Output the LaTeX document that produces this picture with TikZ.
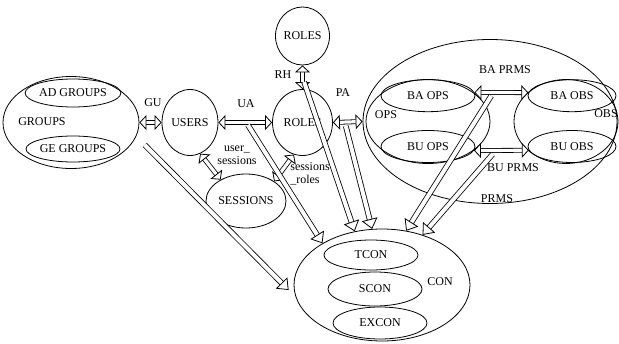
\documentclass[tikz,border=0pt]{standalone}
\usepackage{fontspec}
\setmainfont{Liberation Serif}
\usetikzlibrary{positioning, shapes.geometric, arrows.meta}

\begin{document}
\begin{tikzpicture}[x=1pt, y=-1pt, thick, font=\fontsize{12}{13}\selectfont,
    main/.style = {draw, ellipse, inner sep=0pt},
    lbl/.style = {inner sep=1pt, align=left},
    hsmall/.tip = {Triangle[color=black, fill=white, line width=.8pt, length=7pt, width=15pt]},
    hbig/.tip = {Triangle[color=black, fill=white, line width=.8pt, length=10pt, width=16pt]},
    both/.style = {draw=none,
        preaction = {draw, double, double distance=3.2pt, line width=.8pt, shorten <=4pt, shorten >=4pt},
        postaction = {draw=white, line width=.8pt, hsmall-hsmall}},
    into/.style = {draw=none,
        preaction = {draw, double, double distance=4pt, line width=.8pt, shorten >=#1+5pt},
        postaction = {draw=white, line width=.8pt, shorten >=#1, -hbig}},
    into/.default = 0pt]
    \useasboundingbox (0,0) rectangle (619,343);
    % groups
    \node[main, minimum width=136, minimum height=92] (groups) at (71,122.5) {};
    \node[main, minimum width=94, minimum height=28] (adgroups) at (73,93) {AD GROUPS};
    \node[main, minimum width=94, minimum height=26] (gegroups) at (73,149) {GE GROUPS};
    \node[lbl] (groupslbl) at (42,122) {GROUPS};
    % users, roles, sessions
    \node[main, minimum width=56, minimum height=66] (users) at (190,122.5) {USERS};
    \node[main, minimum width=60, minimum height=66] (roles) at (302.5,122.5) {ROLES};
    \node[main, minimum width=54, minimum height=58] (rolestop) at (302.5,36) {ROLES};
    \node[main, minimum width=80, minimum height=54] (sessions) at (246,201) {SESSIONS};
    % permissions
    \node[main, minimum width=254, minimum height=164] (prms) at (490,121.5) {};
    \node[main, minimum width=124, minimum height=84] (ops) at (428,121.5) {};
    \node[main, minimum width=104, minimum height=84] (obs) at (566,121.5) {};
    \node[main, minimum width=94, minimum height=32] (baops) at (428,95.7) {BA OPS};
    \node[main, minimum width=94, minimum height=32] (buops) at (428,146.5) {BU OPS};
    \node[main, minimum width=88, minimum height=32] (baobs) at (572,95.7) {BA OBS};
    \node[main, minimum width=88, minimum height=32] (buobs) at (572,146.5) {BU OBS};
    % constraints
    \node[main, minimum width=176, minimum height=112] (con) at (382,285) {};
    \node[main, minimum width=94, minimum height=30] (tcon) at (371,255) {TCON};
    \node[main, minimum width=94, minimum height=34] (scon) at (375,289) {SCON};
    \node[main, minimum width=94, minimum height=32] (excon) at (380,323) {EXCON};
    % labels
    \node[lbl] (gu) at (153,103) {GU};
    \node[lbl] (ua) at (246,104) {UA};
    \node[lbl] (rh) at (283,75) {RH};
    \node[lbl] (pa) at (343,93) {PA};
    \node[lbl] (opslbl) at (386,115) {OPS};
    \node[lbl] (obslbl) at (606,114) {OBS};
    \node[lbl] (baprms) at (505,70) {BA PRMS};
    \node[lbl] (buprms) at (513,168) {BU PRMS};
    \node[lbl] (prmslbl) at (497,199) {PRMS};
    \node[lbl] (conlbl) at (440,282) {CON};
    \node[lbl, align=center] (us) at (237,155) {user\_\\sessions};
    \node[lbl] (sr) at (310,174) {sessions\\\_roles};
    % where the constraint arrows leave
    \path (users.east) -- coordinate[pos=.52] (uamid) (roles.west);
    \path (rolestop.south) -- coordinate[pos=.5] (rhmid) (roles.north);
    \path (roles.east) -- coordinate[pos=.4] (pamid) (prms.west);
    \path (baops.4) -- coordinate[pos=.35] (bamid) (baobs.176);
    \path (buops.-5) -- coordinate[pos=.4] (bumid) (buobs.-175);
    % assignments
    \draw[both] (groups.east) -- (users.west);
    \draw[both] (users.east) -- (roles.west);
    \draw[both] (rolestop.south) -- (roles.north);
    \draw[both] (roles.east) -- (prms.west);
    \draw[both] (users.-72) -- (sessions.140);
    \draw[both] (sessions.35) -- (roles.-105);
    \draw[both] (baops.4) -- (baobs.176);
    \draw[both] (buops.-5) -- (buobs.-175);
    % constraints on everything
    \draw[into=10pt, shorten <=12pt] (groups.-12) -- (con.188);
    \draw[into, shorten <=3pt] (uamid) -- (con.145);
    \draw[into, shorten <=5pt] (rhmid) -- (con.117);
    \draw[into, shorten <=4pt] (pamid) -- (con.100);
    \draw[into, shorten <=4pt] (bamid) -- (con.66);
    \draw[into, shorten <=5pt] (bumid) -- (con.51);
\end{tikzpicture}
\end{document}
